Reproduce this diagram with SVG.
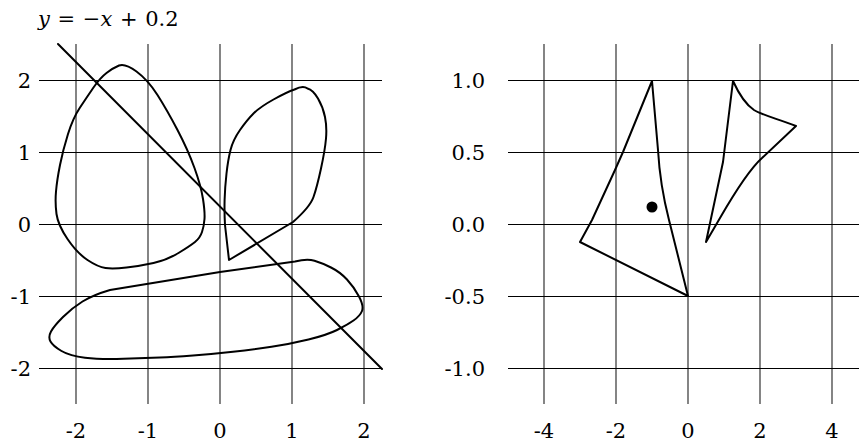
<svg xmlns="http://www.w3.org/2000/svg" width="859" height="443" viewBox="0 0 859 443">
<style>
  .bg{fill:#ffffff}
  .gv{stroke:#444;stroke-width:1.3;fill:none}
  .gh{stroke:#000;stroke-width:1.2;fill:none}
  .crv{stroke:#000;stroke-width:2;fill:none;stroke-linejoin:round;stroke-linecap:round}
  .lbl{font-family:"DejaVu Serif",serif;font-size:21px;fill:#000}
  .ylab{text-anchor:end}
  .xlab{text-anchor:middle}
  .title{font-family:"DejaVu Serif",serif;font-size:21px;fill:#000;word-spacing:1px}
</style>
<rect class="bg" x="0" y="0" width="859" height="443"/>

<g id="left-plot">
  <g id="left-grid">
    <path class="gv" d="M76,44V404M148,44V404M220,44V404M292,44V404M364,44V404"/>
    <path class="gh" d="M39,80.5H382M39,152.5H382M39,224.5H382M39,296.5H382M39,368.5H382"/>
  </g>
  <g id="left-ylabels" class="lbl ylab">
    <text x="31" y="88">2</text>
    <text x="31" y="160">1</text>
    <text x="31" y="232">0</text>
    <text x="31" y="304">-1</text>
    <text x="31" y="376">-2</text>
  </g>
  <g id="left-xlabels" class="lbl xlab">
    <text x="76" y="438">-2</text>
    <text x="148" y="438">-1</text>
    <text x="220" y="438">0</text>
    <text x="292" y="438">1</text>
    <text x="364" y="438">2</text>
  </g>
  <text id="title" class="title" x="38" y="26"><tspan font-style="italic">y</tspan> = −<tspan font-style="italic">x</tspan> + 0.2</text>
  <g id="left-curves">
    <path id="line" class="crv" d="M58,44L382,369"/>
    <path id="loop1" class="crv" d="M136.5,71.5 Q148,80 157.5,95 Q167,110 177.5,130 Q188,150 194.5,168 Q201,186 203,199 Q205,212 204.5,219 Q204,226 202,232 Q200,238 195,242 Q190,246 178.5,253 Q167,260 153.5,263 Q140,266 126.5,267.5 Q113,269 105.5,268 Q98,267 87.5,260 Q77,253 67.5,239 Q58,225 56.5,214 Q55,203 56,191.5 Q57,180 60,165 Q63,150 68,134 Q73,118 80,107.5 Q87,97 93.5,87.5 Q100,78 106.5,73 Q113,68 119,65.5 Q125,63 136.5,71.5 Z"/>
    <path id="loop2" class="crv" d="M229,260 L293,222 Q310,207 313.5,197 Q317,187 321,168.5 Q325,150 326,138.5 Q327,127 325,117 Q323,107 318,98.5 Q313,90 307.5,88.5 Q303,85 294.5,89.5 Q287,92 273.5,99.5 Q260,107 253.5,113.5 Q247,120 240,130 Q233,140 230.5,150 Q228,160 226.5,173.5 Q225,187 224.6,200 Q224.3,213 225,225 L229,260 Z"/>
    <path id="loop3" class="crv" d="M295,261.5 Q307,258.5 314.5,260.75 Q322,263 331,267.5 Q340,272 347,279.5 Q354,287 359,296.5 Q364,306 362,311 Q360,316 353.5,320.5 Q347,325 337,330 Q327,335 308.5,339.5 Q290,344 271.5,346.75 Q253,349.5 233,351.75 Q213,354 193,355.5 Q173,357 160,357.5 Q147,358 123.5,358.75 Q100,359.5 85,357.75 Q70,356 61.5,351 Q53,346 50.5,341.5 Q48,337 51,331.5 Q54,326 63,317 Q72,308 82.5,301.5 Q93,295 110,290 L220,272 L295,261.5 Z"/>
  </g>
</g>

<g id="right-plot">
  <g id="right-grid">
    <path class="gv" d="M544,44V404M616,44V404M688,44V404M760,44V404M832,44V404"/>
    <path class="gh" d="M508,80.5H859M508,152.5H859M508,224.5H859M508,296.5H859M508,368.5H859"/>
  </g>
  <g id="right-ylabels" class="lbl ylab">
    <text x="485" y="88">1.0</text>
    <text x="485" y="160">0.5</text>
    <text x="485" y="232">0.0</text>
    <text x="485" y="304">-0.5</text>
    <text x="485" y="376">-1.0</text>
  </g>
  <g id="right-xlabels" class="lbl xlab">
    <text x="544" y="438">-4</text>
    <text x="616" y="438">-2</text>
    <text x="688" y="438">0</text>
    <text x="760" y="438">2</text>
    <text x="832" y="438">4</text>
  </g>
  <g id="right-curves">
    <path id="shapeA" class="crv" d="M652,81 L658,150 Q660,185 669,220 L688,296 L580,242 L592,220 L615,170 L623,152 Z"/>
    <path id="shapeB" class="crv" d="M733,81 C738,92 745,104 754,110 C762,115 775,118 796,126 L762,158 C752,167 735,192 720,218 L706,242 L723,162 Z"/>
    <circle id="dot" cx="652" cy="207" r="5.5" fill="#000"/>
  </g>
</g>
</svg>
